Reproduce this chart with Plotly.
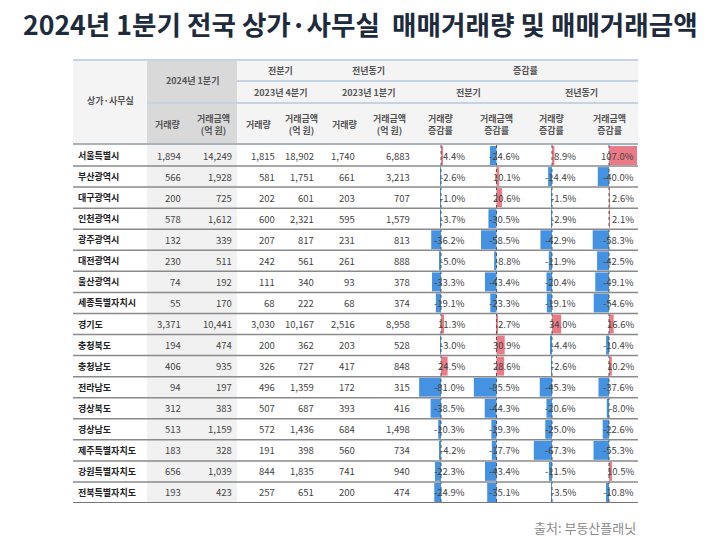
import plotly.graph_objects as go

# 2024년 1분기 전국 상가·사무실 매매거래량/거래금액 표 (증감률 데이터 막대 포함)

regions = ["서울특별시", "부산광역시", "대구광역시", "인천광역시", "광주광역시", "대전광역시",
           "울산광역시", "세종특별자치시", "경기도", "충청북도", "충청남도", "전라남도",
           "경상북도", "경상남도", "제주특별자치도", "강원특별자치도", "전북특별자치도"]

vol_2024q1 = [1894, 566, 200, 578, 132, 230, 74, 55, 3371, 194, 406, 94, 312, 513, 183, 656, 193]
amt_2024q1 = [14249, 1928, 725, 1612, 339, 511, 192, 170, 10441, 474, 935, 197, 383, 1159, 328, 1039, 423]
vol_2023q4 = [1815, 581, 202, 600, 207, 242, 111, 68, 3030, 200, 326, 496, 507, 572, 191, 844, 257]
amt_2023q4 = [18902, 1751, 601, 2321, 817, 561, 340, 222, 10167, 362, 727, 1359, 687, 1436, 398, 1835, 651]
vol_2023q1 = [1740, 661, 203, 595, 231, 261, 93, 68, 2516, 203, 417, 172, 393, 684, 560, 741, 200]
amt_2023q1 = [6883, 3213, 707, 1579, 813, 888, 378, 374, 8958, 528, 848, 315, 416, 1498, 734, 940, 474]

qoq_vol = [4.4, -2.6, -1.0, -3.7, -36.2, -5.0, -33.3, -19.1, 11.3, -3.0, 24.5, -81.0, -38.5, -10.3, -4.2, -22.3, -24.9]
qoq_amt = [-24.6, 10.1, 20.6, -30.5, -58.5, -8.8, -43.4, -23.3, 2.7, 30.9, 28.6, -85.5, -44.3, -19.3, -17.7, -43.4, -35.1]
yoy_vol = [8.9, -14.4, -1.5, -2.9, -42.9, -11.9, -20.4, -19.1, 34.0, -4.4, -2.6, -45.3, -20.6, -25.0, -67.3, -11.5, -3.5]
yoy_amt = [107.0, -40.0, 2.6, 2.1, -58.3, -42.5, -49.1, -54.6, 16.6, -10.4, 10.2, -37.6, -8.0, -22.6, -55.3, 10.5, -10.8]

W, H = 720, 545
FONT = "Noto Sans CJK KR"
POS, NEG = "#ea7a86", "#4592e3"


def X(px):
    return px / W


def Y(py):
    return 1 - py / H


# column edges in pixels
edges = [73, 147, 189, 237, 280, 323, 366, 413, 469, 524, 580, 638]
top, row1, row2, head_bot, data_bot = 60, 81, 103, 144, 503
n = len(regions)

fig = go.Figure()

# bar axes for the four rate columns
rate_cols = [qoq_vol, qoq_amt, yoy_vol, yoy_amt]
axis_names = ["x", "x2", "x3", "x4"]
for k, vals in enumerate(rate_cols):
    fig.add_trace(go.Bar(
        x=vals, y=list(range(n)), orientation="h", xaxis=axis_names[k], yaxis="y",
        marker=dict(color=[POS if v > 0 else NEG for v in vals], line=dict(width=0)),
        width=0.9, hoverinfo="skip", showlegend=False))

layout_axes = {}
for k in range(4):
    l, r = edges[7 + k] + 1, edges[8 + k] - 1
    key = "xaxis" if k == 0 else f"xaxis{k + 1}"
    layout_axes[key] = dict(domain=[X(l), X(r)], range=[-100, 100], visible=False,
                            fixedrange=True, anchor="y")

shapes = []
# header background
shapes.append(dict(type="rect", xref="paper", yref="paper", x0=X(edges[0]), x1=X(edges[-1]),
                   y0=Y(head_bot), y1=Y(top), fillcolor="#f4f4f4", line=dict(width=0), layer="below"))
shapes.append(dict(type="rect", xref="paper", yref="paper", x0=X(edges[1]), x1=X(edges[3]),
                   y0=Y(head_bot), y1=Y(top), fillcolor="#d9d9d9", line=dict(width=0), layer="below"))
shapes.append(dict(type="rect", xref="paper", yref="paper", x0=X(edges[1]), x1=X(edges[3]),
                   y0=Y(data_bot), y1=Y(head_bot), fillcolor="#f1f1f1", line=dict(width=0), layer="below"))


# header rules
def hline(py, x0, x1, color, width):
    shapes.append(dict(type="line", xref="paper", yref="paper", x0=X(x0), x1=X(x1),
                       y0=Y(py), y1=Y(py), line=dict(color=color, width=width)))


hline(top, edges[0], edges[-1], "#c3d4e4", 2)
hline(row1, edges[3], edges[-1], "#c3d4e4", 2)
hline(row2, edges[1], edges[-1], "#c3d4e4", 2)
hline(head_bot, edges[0], edges[-1], "#a9b3bc", 2)

# dotted zero axes of the data bars
for k in range(4):
    shapes.append(dict(type="line", xref=axis_names[k], yref="y", x0=0, x1=0, y0=-0.5, y1=n - 0.5,
                       line=dict(color="#555555", width=1, dash="dot")))

# row separators
for i in range(n):
    shapes.append(dict(type="line", xref="paper", yref="y", x0=X(edges[0]), x1=X(edges[-1]),
                       y0=i + 0.5, y1=i + 0.5,
                       line=dict(color="#8a8a8a" if i < n - 1 else "#777777", width=1.5 if i < n - 1 else 2)))

annotations = []


def txt(text, x, y, yref="paper", anchor="center", size=9, color="#555555", bold=True):
    annotations.append(dict(text=f"<b>{text}</b>" if bold else text, x=x, y=y, xref="paper", yref=yref,
                            xanchor=anchor, yanchor="middle", showarrow=False,
                            font=dict(family=FONT, size=size, color=color)))


def mid(a, b):
    return X((edges[a] + edges[b]) / 2)


# header texts
txt("상가·사무실", mid(0, 1), Y(101))
txt("2024년 1분기", mid(1, 3), Y(81))
txt("전분기", mid(3, 5), Y(70))
txt("전년동기", mid(5, 7), Y(70))
txt("증감률", mid(7, 11), Y(70))
txt("2023년 4분기", mid(3, 5), Y(92))
txt("2023년 1분기", mid(5, 7), Y(92))
txt("전분기", mid(7, 9), Y(92))
txt("전년동기", mid(9, 11), Y(92))
sub = ["거래량", "거래금액<br>(억 원)"] * 3 + ["거래량<br>증감률", "거래금액<br>증감률"] * 2
for j, s in enumerate(sub):
    txt(s, mid(j + 1, j + 2), Y(124))

# data rows
num_cols = [vol_2024q1, amt_2024q1, vol_2023q4, amt_2023q4, vol_2023q1, amt_2023q1]
num_right = [183, 234, 277, 316, 357, 412]
pct_right = [467, 522, 578, 636]
for i in range(n):
    txt(regions[i], X(76), i, yref="y", anchor="left", size=9, color="#222222")
    for c, vals in enumerate(num_cols):
        txt(f"{vals[i]:,}", X(num_right[c]), i, yref="y", anchor="right", size=9.5,
            color="#444444", bold=False)
    for c, vals in enumerate(rate_cols):
        txt(f"{vals[i]:.1f}%", X(pct_right[c]), i, yref="y", anchor="right", size=9.5,
            color="#444444", bold=False)

# title and source
txt("2024년 1분기 전국 상가·사무실  매매거래량 및 매매거래금액", X(21), Y(23), anchor="left",
    size=26.6, color="#1d2b3d")
txt("출처: 부동산플래닛", X(638), Y(527), anchor="right", size=13, color="#8a8a8a", bold=False)

fig.update_layout(
    width=W, height=H, margin=dict(l=0, r=0, t=0, b=0),
    paper_bgcolor="white", plot_bgcolor="rgba(0,0,0,0)",
    barmode="overlay", showlegend=False,
    yaxis=dict(domain=[Y(data_bot), Y(head_bot + 1)], range=[n - 0.5, -0.5], visible=False,
               fixedrange=True),
    shapes=shapes, annotations=annotations,
    **layout_axes,
)

# drop the default 8px page margin so the figure sits at the window's corner
fig.write_html("out.html", config={"displayModeBar": False},
               post_script="document.body.style.margin='0';")
